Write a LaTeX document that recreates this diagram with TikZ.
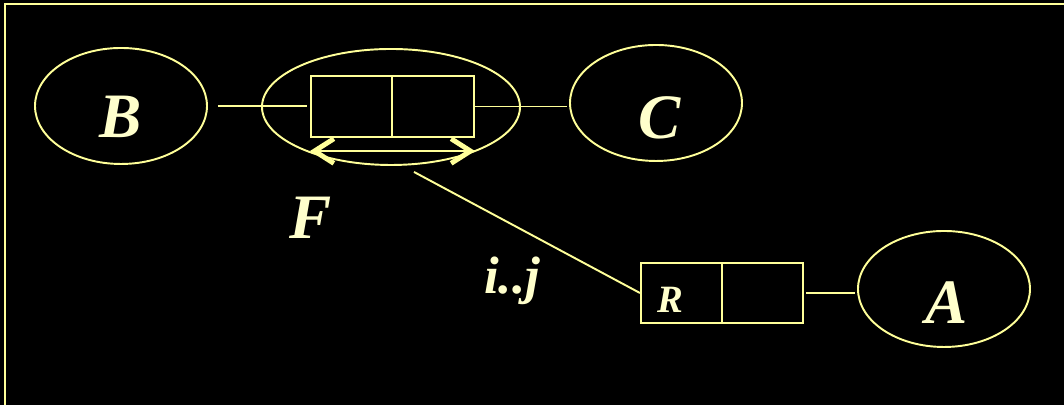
\documentclass[tikz,border=0pt]{standalone}
\usepackage{fontspec}
\setmainfont{Liberation Serif}
\usepackage{xcolor}
\usetikzlibrary{arrows.meta, positioning, shapes.geometric}

\definecolor{chalk}{RGB}{255,255,153}
\definecolor{cream}{RGB}{255,255,204}

\begin{document}
\begin{tikzpicture}[
  oval/.style={draw=chalk, ellipse, line width=0.55pt,
               minimum width=1.72cm, minimum height=1.16cm, inner sep=0pt},
  cell/.style={draw=chalk, line width=0.6pt, minimum width=0.81cm,
               minimum height=0.61cm, inner sep=0pt},
  letter/.style={text=cream, font=\fontsize{18}{20}\selectfont\bfseries\itshape},
  small/.style={text=cream, font=\fontsize{11}{13}\selectfont\bfseries\itshape},
  link/.style={draw=chalk, line width=0.55pt},
  dbl/.style={draw=chalk, line width=0.55pt,
              {Straight Barb[length=5.5pt,width=7pt,line width=1.4pt]}-{Straight Barb[length=5.5pt,width=7pt,line width=1.4pt]}}
]
\useasboundingbox (0,0) rectangle (10.64,4.05);
\fill[black] (0,0) rectangle (10.64,4.05);
\draw[chalk, line width=0.8pt] (0.05,-0.2) -- (0.05,4.01) -- (10.8,4.01);

% entities
\node[oval, label={[letter, yshift=-0.11cm]center:B}] (B) at (1.21,2.99) {};
\node[oval, minimum width=2.58cm] (F) at (3.91,2.98) {};
\node[oval, label={[letter, xshift=0.04cm, yshift=-0.15cm]center:C}] (C) at (6.56,3.02) {};
\node[oval, label={[letter, xshift=0.03cm, yshift=-0.14cm]center:A}] (A) at (9.44,1.16) {};

% boxes
\node[cell] (fl) at (3.515,2.985) {};
\node[cell, right=-0.6pt of fl, minimum width=0.82cm] (fr) {};
\node[cell, minimum height=0.60cm] (rl) at (6.815,1.12) {};
\node[cell, right=-0.6pt of rl, minimum height=0.60cm] (rr) {};

% labels
\node[letter] (flab) at (3.11,1.87) {F};
\node[small, font=\fontsize{15}{17}\selectfont\bfseries\itshape] (ij) at (5.12,1.24) {i..j};
\node[small] (rlab) at ([xshift=-0.115cm, yshift=-0.07cm]rl.center) {R};

% connectors
\draw[link, shorten <=0.1cm, shorten >=0.03cm] (B.east) -- (B.east -| fl.west);
\draw[link, shorten >=0.02cm] (fr.east) -- (fr.east -| C.west);
\draw[dbl] ([yshift=-0.13cm]fl.south west) -- ([yshift=-0.13cm]fr.south east);
\coordinate (ftail) at ([xshift=0.23cm, yshift=-0.06cm]F.south);
\draw[link] (ftail) -- (rl.west);
\draw[link, shorten <=0.02cm, shorten >=0.02cm] (rr.east) -- (rr.east -| A.west);
\end{tikzpicture}
\end{document}
